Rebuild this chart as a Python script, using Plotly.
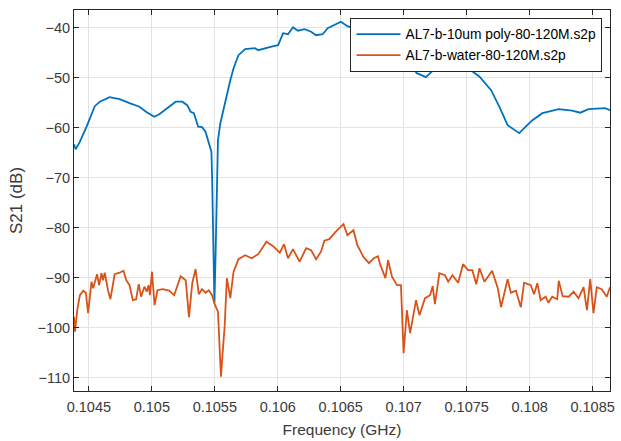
import plotly.graph_objects as go

# Frequency (GHz) and S21 (dB)
poly_freq = [0.104382, 0.104395, 0.104429, 0.104482, 0.104547, 0.104587, 0.104665, 0.104744,
             0.104823, 0.104901, 0.104954, 0.105019, 0.105059, 0.105137, 0.105190, 0.105242,
             0.105281, 0.105308, 0.105334, 0.105368, 0.105399, 0.105426, 0.105452, 0.105473,
             0.105478, 0.105487, 0.105497, 0.105507, 0.105517, 0.105525, 0.105544, 0.105570,
             0.105596, 0.105623, 0.105649, 0.105688, 0.105741, 0.105819, 0.105845, 0.105898,
             0.105950, 0.106003, 0.106042, 0.106081, 0.106121, 0.106160, 0.106213, 0.106265,
             0.106304, 0.106357, 0.106396, 0.106461, 0.106501, 0.106553, 0.106648, 0.106750,
             0.106868, 0.106962, 0.107039, 0.107104, 0.107177, 0.107235, 0.107314, 0.107353,
             0.107432, 0.107497, 0.107602, 0.107694, 0.107759, 0.107825, 0.107917, 0.107969,
             0.108022, 0.108101, 0.108231, 0.108337, 0.108402, 0.108467, 0.108599, 0.108638]
poly_s21 = [-63.3, -64.3, -62.8, -59.8, -55.7, -54.8, -53.9, -54.3,
            -55.1, -55.8, -56.8, -57.8, -57.3, -55.8, -54.8, -54.8,
            -55.5, -56.8, -57.1, -59.8, -59.9, -60.8, -63.1, -64.8,
            -69.1, -84.5, -95.1, -84.5, -70.5, -62.5, -59.1, -56.1,
            -53.8, -50.5, -48.1, -45.5, -44.3, -44.1, -44.5, -44.1,
            -43.8, -43.5, -41.1, -41.3, -39.9, -40.6, -40.3, -40.8,
            -41.5, -41.3, -40.1, -39.3, -38.8, -39.7, -40.5, -41.7,
            -43.5, -45.5, -47.1, -49.1, -49.9, -48.5, -47.3, -47.8,
            -47.1, -47.8, -49.8, -52.5, -55.8, -59.5, -61.1, -59.8,
            -58.5, -57.1, -56.3, -56.6, -57.0, -56.3, -56.1, -56.5]

water_freq = [0.104382, 0.104390, 0.104408, 0.104429, 0.104455, 0.104476, 0.104494, 0.104521,
              0.104534, 0.104547, 0.104565, 0.104581, 0.104600, 0.104612, 0.104626, 0.104652,
              0.104671, 0.104705, 0.104744, 0.104775, 0.104797, 0.104823, 0.104849, 0.104875,
              0.104896, 0.104915, 0.104941, 0.104959, 0.104974, 0.104985, 0.105001, 0.105022,
              0.105045, 0.105085, 0.105137, 0.105177, 0.105229, 0.105269, 0.105295, 0.105321,
              0.105347, 0.105373, 0.105399, 0.105426, 0.105452, 0.105478, 0.105499, 0.105525,
              0.105549, 0.105562, 0.105578, 0.105596, 0.105623, 0.105649, 0.105688, 0.105741,
              0.105793, 0.105845, 0.105910, 0.105963, 0.106016, 0.106050, 0.106081, 0.106121,
              0.106173, 0.106225, 0.106265, 0.106304, 0.106343, 0.106370, 0.106409, 0.106461,
              0.106522, 0.106553, 0.106601, 0.106632, 0.106679, 0.106724, 0.106763, 0.106795,
              0.106815, 0.106855, 0.106876, 0.106907, 0.106947, 0.106978, 0.106999, 0.107025,
              0.107051, 0.107098, 0.107125, 0.107169, 0.107209, 0.107230, 0.107248, 0.107283,
              0.107327, 0.107353, 0.107387, 0.107432, 0.107471, 0.107511, 0.107545, 0.107576,
              0.107602, 0.107641, 0.107702, 0.107747, 0.107773, 0.107825, 0.107851, 0.107891,
              0.107930, 0.107956, 0.108009, 0.108035, 0.108061, 0.108087, 0.108127, 0.108148,
              0.108179, 0.108219, 0.108231, 0.108262, 0.108310, 0.108349, 0.108388, 0.108428,
              0.108455, 0.108481, 0.108507, 0.108533, 0.108573, 0.108612, 0.108638]
water_s21 = [-97.8, -100.8, -96.5, -93.5, -92.6, -93.0, -97.1, -90.8,
             -92.1, -91.1, -89.3, -91.5, -89.1, -90.5, -89.0, -92.5,
             -94.3, -89.3, -89.0, -88.6, -90.5, -91.5, -94.5, -94.3,
             -91.3, -93.8, -91.8, -92.8, -91.5, -93.5, -88.8, -95.5,
             -92.5, -92.3, -92.6, -93.5, -89.7, -90.5, -97.9, -91.1,
             -88.3, -93.3, -92.3, -93.0, -92.5, -93.5, -95.3, -96.8,
             -109.8, -105.1, -99.8, -90.1, -94.1, -88.8, -86.3, -85.5,
             -86.1, -85.3, -82.8, -83.7, -85.0, -83.3, -86.1, -84.3,
             -86.8, -84.1, -84.5, -86.3, -84.8, -82.6, -82.3, -80.8,
             -79.3, -81.5, -80.5, -83.5, -85.8, -87.1, -86.1, -85.7,
             -87.5, -90.1, -86.5, -89.8, -91.5, -91.5, -105.1, -96.5,
             -101.1, -94.5, -97.5, -94.1, -93.5, -91.7, -95.3, -89.1,
             -89.5, -90.8, -89.5, -91.0, -87.3, -88.5, -88.5, -91.3,
             -88.1, -90.8, -88.6, -92.1, -95.9, -90.3, -93.0, -92.6,
             -95.9, -91.0, -91.5, -93.3, -91.1, -94.5, -93.8, -95.0,
             -93.8, -94.3, -90.6, -93.7, -93.8, -92.8, -94.1, -91.9,
             -96.5, -90.3, -97.1, -91.9, -92.3, -93.8, -91.9]

x_ticks = [0.1045, 0.105, 0.1055, 0.106, 0.1065, 0.107, 0.1075, 0.108, 0.1085]
x_tick_labels = ["0.1045", "0.105", "0.1055", "0.106", "0.1065", "0.107", "0.1075", "0.108", "0.1085"]
y_ticks = [-110, -100, -90, -80, -70, -60, -50, -40]
series_names = ["AL7-b-10um poly-80-120M.s2p", "AL7-b-water-80-120M.s2p"]

FONT = "Liberation Sans, Arial, Helvetica, sans-serif"
AX = "#262626"
TXT = "#3a3a3a"

fig = go.Figure()
fig.add_trace(go.Scatter(x=poly_freq, y=poly_s21, mode="lines", name=series_names[0],
                         line=dict(color="#0072BD", width=1.8)))
fig.add_trace(go.Scatter(x=water_freq, y=water_s21, mode="lines", name=series_names[1],
                         line=dict(color="#D95319", width=1.8)))

axis_common = dict(
    showline=True, linecolor=AX, linewidth=1, mirror="ticks",
    ticks="inside", ticklen=5, tickcolor=AX, tickwidth=1,
    showgrid=True, gridcolor="#e3e3e3", gridwidth=1,
    zeroline=False, tickfont=dict(family=FONT, size=14.5, color=TXT),
)

fig.update_layout(
    width=621, height=441,
    margin=dict(l=74, r=6, t=10, b=50),
    paper_bgcolor="white", plot_bgcolor="white",
    font=dict(family=FONT, size=14, color=TXT),
    showlegend=True,
    legend=dict(x=0.986, y=0.98, xanchor="right", yanchor="top",
                bgcolor="white", bordercolor=AX, borderwidth=1,
                itemwidth=44,
                font=dict(family=FONT, size=13.8, color="#000000"),
                tracegroupgap=0),
    xaxis=dict(range=[0.104382, 0.108638], tickvals=x_ticks, ticktext=x_tick_labels,
               ticklabelstandoff=3,
               title=dict(text="Frequency (GHz)", font=dict(family=FONT, size=15.5, color=TXT), standoff=9),
               **axis_common),
    yaxis=dict(range=[-112.66, -36.46], tickvals=y_ticks,
               title=dict(text="S21 (dB)", font=dict(family=FONT, size=17, color=TXT), standoff=10),
               **axis_common),
)

fig.write_html("out.html")
